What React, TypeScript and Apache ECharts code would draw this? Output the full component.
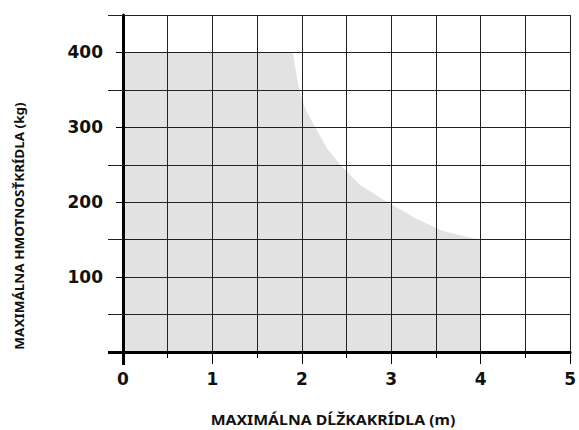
import React, { useEffect, useRef } from "react";
import * as echarts from "echarts";

// Axis ranges and tick values
const xMin = 0;
const xMax = 5;
const xStep = 0.5;
const xMajorTicks = [1, 2, 3, 4, 5];
const xMinorTicks = [0.5, 1.5, 2.5, 3.5, 4.5];
const yMin = 0;
const yMax = 450;
const yStep = 50;
const yMajorTicks = [100, 200, 300, 400];
const yMinorTicks = [50, 150, 250, 350, 450];
const yLabelValues = [100, 200, 300, 400];

// Envelope of allowed (wing length [m], wing mass [kg])
const envelopeLength = [0, 1.9, 1.93, 1.97, 2.04, 2.15, 2.28, 2.43, 2.65, 2.96, 3.28, 3.57, 3.87, 4, 4];
const envelopeMass = [400, 400, 378, 350, 324, 300, 272, 250, 223, 200, 178, 162, 153, 150, 0];

const xName = "MAXIMÁLNA DĹŽKAKRÍDLA (m)";
const yName = "MAXIMÁLNA HMOTNOSŤKRÍDLA (kg)";

const FONT = "'Noto Sans', 'Open Sans', sans-serif";
const TICK_FONT = "'DejaVu Sans', 'Noto Sans', sans-serif";

export default function App() {
  const ref = useRef<HTMLDivElement>(null);

  useEffect(() => {
    if (!ref.current) return;
    const chart = echarts.init(ref.current, null, { renderer: "svg" });

    const baseX = { type: "value" as const, min: xMin, max: xMax, interval: xStep, gridIndex: 0, position: "bottom" as const };
    const baseY = { type: "value" as const, min: yMin, max: yMax, interval: yStep, gridIndex: 0, position: "left" as const };
    const hidden = {
      axisLine: { show: false },
      splitLine: { show: false },
      axisLabel: { show: false },
    };

    chart.setOption({
      animation: false,
      backgroundColor: "#ffffff",
      grid: { left: 123, right: 3, top: 15, bottom: 78, containLabel: false },
      xAxis: [
        {
          ...baseX,
          z: 5,
          axisLine: { show: true, onZero: false, lineStyle: { color: "#000", width: 3 } },
          axisTick: { show: false },
          splitLine: { show: true, lineStyle: { color: "#222", width: 1 } },
          axisLabel: {
            show: true,
            margin: 18,
            fontSize: 17,
            fontWeight: "bold",
            fontFamily: TICK_FONT,
            color: "#111",
            formatter: (v: number) => (Number.isInteger(v) ? String(v) : ""),
          },
        },
        {
          ...baseX,
          z: 5,
          ...hidden,
          axisTick: { show: true, customValues: xMajorTicks, length: 12, lineStyle: { color: "#000", width: 1 } },
        },
        {
          ...baseX,
          z: 5,
          ...hidden,
          axisTick: { show: true, customValues: xMinorTicks, length: 6, lineStyle: { color: "#000", width: 1 } },
        },
        {
          ...baseX,
          z: 6,
          ...hidden,
          axisTick: { show: true, customValues: [xMin], length: 13, lineStyle: { color: "#000", width: 3 } },
        },
      ],
      yAxis: [
        {
          ...baseY,
          z: 5,
          axisLine: { show: true, onZero: false, lineStyle: { color: "#000", width: 3 } },
          axisTick: { show: false },
          splitLine: { show: true, lineStyle: { color: "#222", width: 1 } },
          axisLabel: {
            show: true,
            margin: 20,
            fontSize: 17,
            fontWeight: "bold",
            fontFamily: TICK_FONT,
            color: "#111",
            formatter: (v: number) => (yLabelValues.includes(v) ? String(v) : ""),
          },
        },
        {
          ...baseY,
          z: 5,
          ...hidden,
          axisTick: { show: true, customValues: yMajorTicks, length: 7, lineStyle: { color: "#000", width: 1 } },
        },
        {
          ...baseY,
          z: 5,
          ...hidden,
          axisTick: { show: true, customValues: yMinorTicks, length: 15, lineStyle: { color: "#222", width: 1 } },
        },
        {
          ...baseY,
          z: 6,
          ...hidden,
          axisTick: { show: true, customValues: [yMin], length: 15, lineStyle: { color: "#000", width: 3 } },
        },
      ],
      series: [
        {
          type: "line",
          xAxisIndex: 0,
          yAxisIndex: 0,
          z: 1,
          data: envelopeLength.map((x, i) => [x, envelopeMass[i]]),
          symbol: "none",
          showSymbol: false,
          lineStyle: { width: 0 },
          areaStyle: { color: "#e2e2e2", opacity: 1 },
          silent: true,
        },
      ],
      graphic: [
        {
          type: "text",
          x: 333,
          y: 419,
          scaleX: 1.13,
          style: {
            text: xName,
            fontSize: 14,
            fontWeight: "bold",
            fontFamily: FONT,
            fill: "#111",
            textAlign: "center",
            textVerticalAlign: "middle",
          },
        },
        {
          type: "text",
          x: 19,
          y: 226,
          rotation: Math.PI / 2,
          scaleX: 1.04,
          style: {
            text: yName,
            fontSize: 13,
            fontWeight: "bold",
            fontFamily: FONT,
            fill: "#111",
            textAlign: "center",
            textVerticalAlign: "middle",
          },
        },
      ],
    });

    return () => chart.dispose();
  }, []);

  return (
    <div
      ref={ref}
      style={{ position: "fixed", left: 0, top: 0, width: 579, height: 430 }}
    />
  );
}
